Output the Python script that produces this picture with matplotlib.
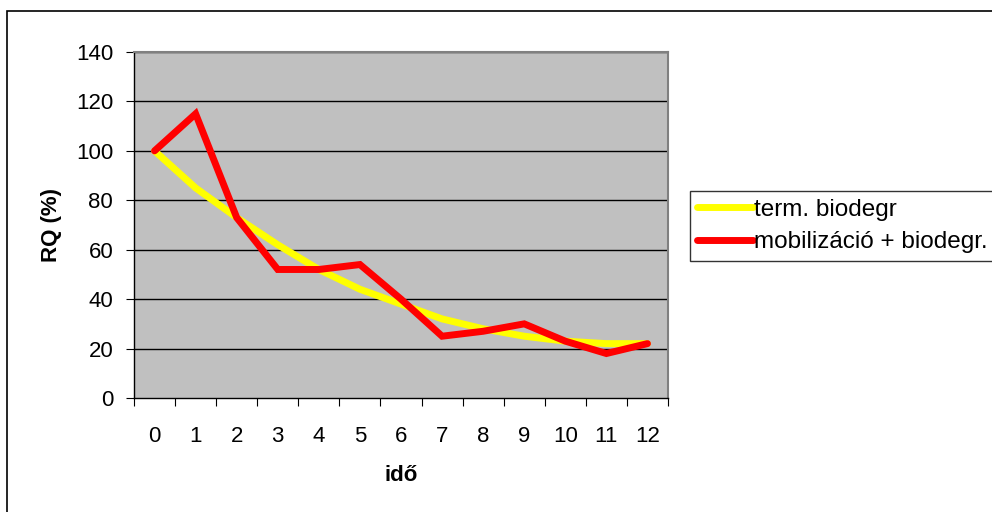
import numpy as np
import matplotlib.pyplot as plt
from matplotlib.patches import Rectangle

# data
ido = list(range(13))
term_biodegr = [100, 85, 73, 62, 52, 44, 38, 32, 28, 25, 23, 22, 22]
mobilizacio = [100, 115, 73, 52, 52, 54, 40, 25, 27, 30, 23, 18, 22]
yticks = [0, 20, 40, 60, 80, 100, 120, 140]

plt.rcParams['font.family'] = ['Liberation Sans', 'DejaVu Sans']
FS = 16

fig = plt.figure(figsize=(9.92, 5.12), dpi=100)
W, H = 992, 512
ax = fig.add_axes([134 / W, 1 - 398 / H, 534 / W, 346 / H])
ax.set_facecolor('#C0C0C0')

# outer chart border
fig.patches.append(Rectangle((7 / W, -0.1), 1.2, 1 - 11 / H + 0.1, transform=fig.transFigure,
                             fill=False, edgecolor='black', linewidth=1.2))

ax.plot(ido, term_biodegr, color='#FFFF00', lw=5, solid_capstyle='round', label='term. biodegr')
ax.plot(ido, mobilizacio, color='#FF0000', lw=5, solid_capstyle='round',
        solid_joinstyle='miter', label='mobilizáció + biodegr.')

ax.set_xlim(-0.5, 12.5)
ax.set_ylim(0, 140)
ax.set_yticks(yticks)
for y in yticks[1:]:
    ax.axhline(y, color='black', lw=1, zorder=1)

ax.set_xticks(np.arange(-0.5, 13, 1))
ax.set_xticklabels([])
ax.set_xticks(ido, minor=True)
ax.set_xticklabels([str(i) for i in ido], minor=True)
ax.tick_params(axis='x', which='major', direction='out', length=6, color='black')
ax.tick_params(axis='x', which='minor', length=0, pad=20, labelsize=FS)
ax.tick_params(axis='y', direction='out', length=6, pad=9, labelsize=FS)

for s in ['top', 'right']:
    ax.spines[s].set_color('#808080')
    ax.spines[s].set_linewidth(1.5)
for s in ['left', 'bottom']:
    ax.spines[s].set_color('black')
    ax.spines[s].set_linewidth(1)

ax.set_ylabel('RQ (%)', fontsize=FS, fontweight='bold', labelpad=10)
ax.set_xlabel('idő', fontsize=FS, fontweight='bold', labelpad=13)

leg = ax.legend(loc='center left', bbox_to_anchor=(690 / W, 1 - 226 / H),
                bbox_transform=fig.transFigure, fontsize=17.5, frameon=True, fancybox=False,
                edgecolor='black', handlelength=2.3, handletextpad=0.05, borderpad=0.3,
                labelspacing=0.45, borderaxespad=0)
leg.get_frame().set_linewidth(1)

fig.savefig('out.png', dpi=100)
